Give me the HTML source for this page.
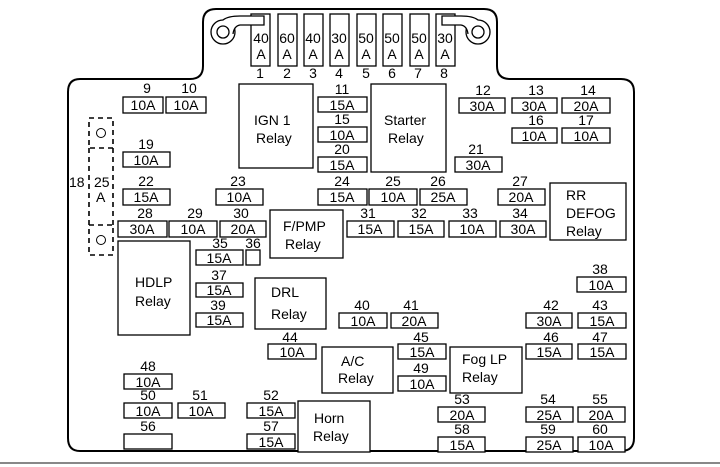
<!DOCTYPE html>
<html><head><meta charset="utf-8"><style>
html,body{margin:0;padding:0;background:#fff;}
svg{display:block;}
text{font-family:"Liberation Sans",Arial,sans-serif;font-size:14px;fill:#000;}
.f{fill:#fff;stroke:#000;stroke-width:1.3;}
.r{fill:#fff;stroke:#000;stroke-width:1.3;}
</style></head><body>
<svg width="720" height="467" viewBox="0 0 720 467" xmlns="http://www.w3.org/2000/svg">
<path d="M80,79 H190 Q203,79 203,66 V22 Q203,9 216,9 H484 Q497,9 497,22 V66 Q497,79 510,79 H621 Q634,79 634,92 V438 Q634,451 621,451 H80 Q68,451 68,438 V92 Q68,79 80,79 Z" fill="#fff" stroke="#000" stroke-width="2"/>
<line x1="0" y1="463" x2="720" y2="463" stroke="#888" stroke-width="2"/>
<circle cx="223" cy="32" r="12" fill="#fff" stroke="#000" stroke-width="1.3"/>
<circle cx="223" cy="32" r="6" fill="#fff" stroke="#000" stroke-width="1.3"/>
<circle cx="478" cy="32" r="12" fill="#fff" stroke="#000" stroke-width="1.3"/>
<circle cx="478" cy="32" r="6" fill="#fff" stroke="#000" stroke-width="1.3"/>
<g class="f">
<rect x="251" y="14" width="19" height="52"/><rect x="278" y="14" width="19" height="52"/><rect x="304" y="14" width="19" height="52"/><rect x="330" y="14" width="19" height="52"/><rect x="357" y="14" width="19" height="52"/><rect x="383" y="14" width="19" height="52"/><rect x="410" y="14" width="19" height="52"/><rect x="436" y="14" width="19" height="52"/>
</g>
<path d="M223,20 Q228,16 240,16 H264 V25 H240 Q234,26 233,34" fill="#fff" stroke="#000" stroke-width="1.3"/>
<path d="M478,20 Q473,16 461,16 H442 V25 H461 Q467,26 468,34" fill="#fff" stroke="#000" stroke-width="1.3"/>
<g text-anchor="middle">
<text x="261" y="43">40</text><text x="261" y="59">A</text>
<text x="287" y="43">60</text><text x="287" y="59">A</text>
<text x="313" y="43">40</text><text x="313" y="59">A</text>
<text x="339" y="43">30</text><text x="339" y="59">A</text>
<text x="366" y="43">50</text><text x="366" y="59">A</text>
<text x="392" y="43">50</text><text x="392" y="59">A</text>
<text x="419" y="43">50</text><text x="419" y="59">A</text>
<text x="445" y="43">30</text><text x="445" y="59">A</text>
<text x="260" y="78">1</text><text x="287" y="78">2</text><text x="313" y="78">3</text><text x="339" y="78">4</text><text x="366" y="78">5</text><text x="392" y="78">6</text><text x="418" y="78">7</text><text x="444" y="78">8</text>
</g>
<g fill="none" stroke="#000" stroke-width="1.6" stroke-dasharray="5,4">
<rect x="89" y="118" width="24" height="30"/>
<rect x="89" y="225" width="24" height="30"/>
<line x1="89" y1="148" x2="89" y2="225"/><line x1="113" y1="148" x2="113" y2="225"/>
</g>
<circle cx="101" cy="133" r="4.5" fill="none" stroke="#000"/>
<circle cx="101" cy="240" r="4.5" fill="none" stroke="#000"/>
<text x="69" y="187">18</text><text x="94" y="187">25</text><text x="96" y="202">A</text>
<g class="r">
<rect x="239" y="84" width="74" height="84"/>
<rect x="371" y="84" width="75" height="88"/>
<rect x="550" y="183" width="76" height="57"/>
<rect x="270" y="210" width="73" height="48"/>
<rect x="118" y="241" width="72" height="94"/>
<rect x="255" y="278" width="71" height="51"/>
<rect x="322" y="347" width="71" height="46"/>
<rect x="450" y="347" width="72" height="46"/>
<rect x="298" y="401" width="72" height="51"/>
</g>
<g>
<text x="254" y="125">IGN 1</text><text x="256" y="143">Relay</text>
<text x="384" y="125">Starter</text><text x="388" y="143">Relay</text>
<text x="566" y="200">RR</text><text x="566" y="218">DEFOG</text><text x="566" y="236">Relay</text>
<text x="283" y="231">F/PMP</text><text x="285" y="249">Relay</text>
<text x="135" y="287">HDLP</text><text x="135" y="306">Relay</text>
<text x="271" y="297">DRL</text><text x="271" y="319">Relay</text>
<text x="341" y="366">A/C</text><text x="338" y="383">Relay</text>
<text x="462" y="364">Fog LP</text><text x="462" y="382">Relay</text>
<text x="314" y="423">Horn</text><text x="313" y="441">Relay</text>
</g>
<g class="f">
<rect x="123" y="97" width="40" height="16"/><rect x="166" y="97" width="40" height="16"/>
<rect x="318" y="97" width="49" height="15"/><rect x="318" y="127" width="49" height="15"/><rect x="318" y="157" width="49" height="15"/>
<rect x="459" y="98" width="46" height="15"/><rect x="512" y="98" width="45" height="15"/><rect x="562" y="98" width="48" height="15"/>
<rect x="512" y="128" width="45" height="15"/><rect x="562" y="128" width="48" height="15"/>
<rect x="455" y="157" width="47" height="15"/>
<rect x="123" y="152" width="47" height="15"/>
<rect x="123" y="189" width="47" height="16"/><rect x="216" y="189" width="47" height="16"/>
<rect x="318" y="189" width="49" height="16"/><rect x="369" y="189" width="48" height="16"/><rect x="420" y="189" width="47" height="16"/><rect x="498" y="189" width="47" height="16"/>
<rect x="118" y="221" width="49" height="16"/><rect x="169" y="221" width="48" height="16"/><rect x="220" y="221" width="46" height="16"/>
<rect x="347" y="221" width="47" height="16"/><rect x="398" y="221" width="46" height="16"/><rect x="449" y="221" width="47" height="16"/><rect x="500" y="221" width="46" height="16"/>
<rect x="196" y="250" width="47" height="15"/><rect x="246" y="250" width="14" height="15"/>
<rect x="196" y="283" width="47" height="14"/><rect x="196" y="313" width="47" height="14"/>
<rect x="577" y="277" width="49" height="15"/>
<rect x="339" y="313" width="48" height="15"/><rect x="391" y="313" width="47" height="15"/>
<rect x="526" y="313" width="46" height="15"/><rect x="578" y="313" width="48" height="15"/>
<rect x="268" y="344" width="48" height="15"/>
<rect x="398" y="344" width="48" height="15"/><rect x="398" y="376" width="48" height="15"/>
<rect x="526" y="344" width="46" height="15"/><rect x="578" y="344" width="48" height="15"/>
<rect x="124" y="374" width="48" height="15"/>
<rect x="124" y="403" width="48" height="15"/><rect x="178" y="403" width="47" height="15"/>
<rect x="247" y="403" width="48" height="15"/><rect x="247" y="434" width="48" height="15"/>
<rect x="124" y="434" width="48" height="15"/>
<rect x="438" y="407" width="47" height="15"/><rect x="438" y="437" width="47" height="15"/>
<rect x="526" y="407" width="47" height="15"/><rect x="578" y="407" width="47" height="15"/>
<rect x="526" y="437" width="47" height="15"/><rect x="578" y="437" width="47" height="15"/>
</g>
<g text-anchor="middle">
<text x="143" y="110">10A</text><text x="186" y="110">10A</text><text x="147" y="93">9</text><text x="189" y="93">10</text>
<text x="342" y="110">15A</text><text x="342" y="94">11</text>
<text x="342" y="140">10A</text><text x="342" y="124">15</text>
<text x="342" y="170">15A</text><text x="342" y="154">20</text>
<text x="482" y="111">30A</text><text x="483" y="95">12</text>
<text x="534" y="111">30A</text><text x="536" y="95">13</text>
<text x="586" y="111">20A</text><text x="588" y="95">14</text>
<text x="534" y="141">10A</text><text x="536" y="125">16</text>
<text x="586" y="141">10A</text><text x="586" y="125">17</text>
<text x="478" y="170">30A</text><text x="476" y="154">21</text>
<text x="146" y="165">10A</text><text x="146" y="149">19</text>
<text x="146" y="202">15A</text><text x="146" y="186">22</text>
<text x="239" y="202">10A</text><text x="238" y="186">23</text>
<text x="342" y="202">15A</text><text x="342" y="186">24</text>
<text x="393" y="202">10A</text><text x="393" y="186">25</text>
<text x="443" y="202">25A</text><text x="438" y="186">26</text>
<text x="521" y="202">20A</text><text x="520" y="186">27</text>
<text x="142" y="234">30A</text><text x="145" y="218">28</text>
<text x="193" y="234">10A</text><text x="195" y="218">29</text>
<text x="243" y="234">20A</text><text x="241" y="218">30</text>
<text x="370" y="234">15A</text><text x="368" y="218">31</text>
<text x="421" y="234">15A</text><text x="419" y="218">32</text>
<text x="472" y="234">10A</text><text x="470" y="218">33</text>
<text x="523" y="234">30A</text><text x="520" y="218">34</text>
<text x="219" y="263">15A</text><text x="220" y="248">35</text><text x="253" y="248">36</text>
<text x="219" y="295">15A</text><text x="219" y="280">37</text>
<text x="219" y="325">15A</text><text x="218" y="310">39</text>
<text x="601" y="290">10A</text><text x="600" y="274">38</text>
<text x="363" y="326">10A</text><text x="362" y="310">40</text>
<text x="414" y="326">20A</text><text x="411" y="310">41</text>
<text x="549" y="326">30A</text><text x="551" y="310">42</text>
<text x="602" y="326">15A</text><text x="600" y="310">43</text>
<text x="292" y="357">10A</text><text x="290" y="342">44</text>
<text x="422" y="357">15A</text><text x="421" y="342">45</text>
<text x="422" y="389">10A</text><text x="421" y="373">49</text>
<text x="549" y="357">15A</text><text x="551" y="342">46</text>
<text x="602" y="357">15A</text><text x="600" y="342">47</text>
<text x="148" y="387">10A</text><text x="148" y="371">48</text>
<text x="148" y="416">10A</text><text x="148" y="400">50</text>
<text x="201" y="416">10A</text><text x="200" y="400">51</text>
<text x="271" y="416">15A</text><text x="271" y="400">52</text>
<text x="271" y="447">15A</text><text x="271" y="431">57</text>
<text x="148" y="431">56</text>
<text x="462" y="420">20A</text><text x="462" y="404">53</text>
<text x="462" y="450">15A</text><text x="462" y="434">58</text>
<text x="549" y="420">25A</text><text x="548" y="404">54</text>
<text x="601" y="420">20A</text><text x="600" y="404">55</text>
<text x="549" y="450">25A</text><text x="548" y="434">59</text>
<text x="601" y="450">10A</text><text x="600" y="434">60</text>
</g>
</svg>
</body></html>
